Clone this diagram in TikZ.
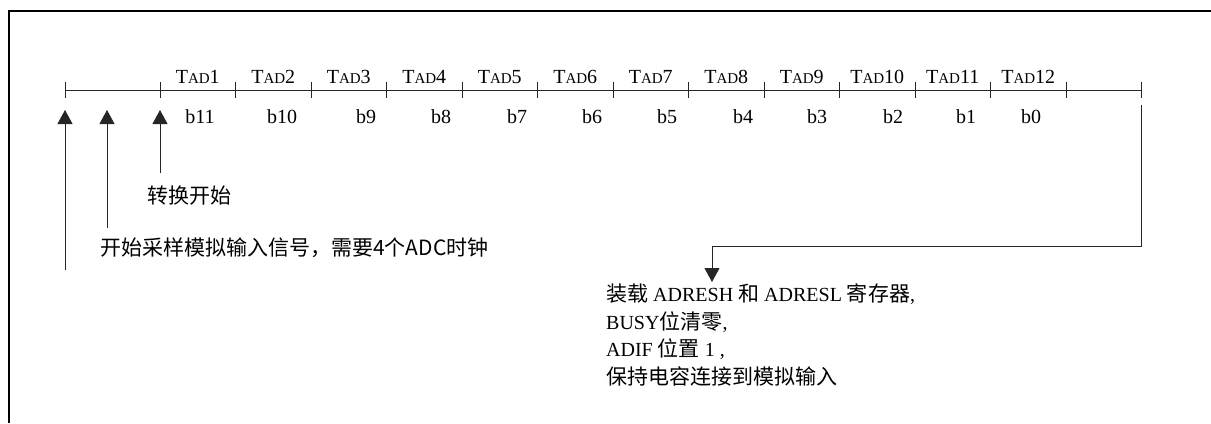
\documentclass[tikz,border=0pt]{standalone}
\usepackage{fontspec}
\setmainfont{Liberation Serif}
\newfontfamily\cjk[Scale=1.05]{Noto Sans CJK SC}
\usetikzlibrary{arrows.meta}
\begin{document}
\begin{tikzpicture}[x=1bp,y=-1bp,
  frame/.style={line width=2bp, draw=black},
  wire/.style={line width=0.9bp, draw=black!85},
  uptip/.style={-{Triangle[width=15bp,length=14bp]}},
  lab/.style={inner sep=0pt, font=\fontsize{20bp}{24bp}\selectfont},
  small/.style={font=\fontsize{15bp}{15bp}\selectfont}]
\useasboundingbox (0,0) rectangle (1211,423);
% frame (only top and left edges are visible)
\draw[frame] (9,423) -- (9,11) -- (1211,11);
% timeline
\coordinate (p0) at (65,90);
\foreach \k in {1,...,13}{\coordinate (p\k) at ({160+(\k-1)*75.5},90);}
\coordinate (p14) at (1141,90);
\draw[wire] (p0) -- (p14);
\foreach \x in {65,1141}{\draw[wire] (\x,82) -- (\x,98);}
\foreach \k in {1,...,13}{\draw[wire] ({160+(\k-1)*75.5},82) -- ({160+(\k-1)*75.5},98);}
% TAD labels
\foreach \k in {1,...,12}{
  \node[lab, anchor=base] (tad\k) at ({160+(\k-0.5)*75.5},83) {T{\fontsize{15bp}{15bp}\selectfont AD}\k};
}
% bit labels
\foreach \x/\b [count=\i] in {200/11,282/10,366/9,441/8,517/7,592/6,667/5,743/4,817/3,893/2,966/1,1031/0}{
  \node[lab, anchor=base] (bit\i) at (\x,123) {b\b};
}
% upward arrows
\coordinate (a1s) at (65,270);  \coordinate (a1e) at (65,110);
\coordinate (a2s) at (107,228); \coordinate (a2e) at (107,110);
\coordinate (a3s) at (160,173); \coordinate (a3e) at (160,110);
\draw[wire, uptip] (a1s) -- (a1e);
\draw[wire, uptip] (a2s) -- (a2e);
\draw[wire, uptip] (a3s) -- (a3e);
% labels for arrows
\node[lab, anchor=base west] (conv) at (147,203) {\cjk 转换开始};
\node[lab, anchor=base west] (samp) at (100,255) {\cjk 开始采样模拟输入信号，需要4个ADC时钟};
% end-of-conversion connector
\coordinate (r0) at (1141,105);
\coordinate (r1) at (1141,246);
\coordinate (r2) at (712,246);
\coordinate (r3) at (712,282);
\draw[wire, uptip] (r0) -- (r1) -- (r2) -- (r3);
% result text
\node[lab, anchor=base west] (l1) at (606,301) {{\cjk 装载} ADRESH {\cjk 和} ADRESL {\cjk 寄存器},};
\node[lab, anchor=base west] (l2) at (606,329) {BUSY{\cjk 位清零},};
\node[lab, anchor=base west] (l3) at (606,356) {ADIF {\cjk 位置} 1 ,};
\node[lab, anchor=base west] (l4) at (606,384) {\cjk 保持电容连接到模拟输入};
\end{tikzpicture}
\end{document}
